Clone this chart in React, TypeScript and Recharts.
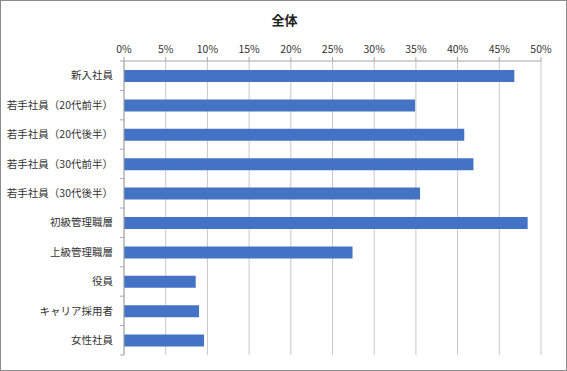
import React from 'react';
import { BarChart, Bar, XAxis, YAxis, CartesianGrid } from 'recharts';

const categories = [
  '新入社員',
  '若手社員（20代前半）',
  '若手社員（20代後半）',
  '若手社員（30代前半）',
  '若手社員（30代後半）',
  '初級管理職層',
  '上級管理職層',
  '役員',
  'キャリア採用者',
  '女性社員',
];
const values = [46.8, 34.9, 40.8, 41.9, 35.5, 48.4, 27.4, 8.6, 9.0, 9.6];
const xTicks = [0, 5, 10, 15, 20, 25, 30, 35, 40, 45, 50];

const data = categories.map((name, i) => ({ name, value: values[i] }));

const W = 567;
const H = 371;
const TOP = 61;
const BOTTOM = 16;
const band = (H - TOP - BOTTOM) / categories.length;
const FONT = '"Noto Sans CJK JP", "Noto Sans", sans-serif';

const CategoryTick = (props: any) => {
  const { x, y, payload, index } = props;
  const axisX = x + 11;
  return (
    <g>
      <text x={x} y={y} dy="0.35em" textAnchor="end" fontSize={10.5} fill="#333" fontFamily={FONT}>
        {payload.value}
      </text>
      {index === 0 && <line x1={axisX - 4} x2={axisX} y1={y - band / 2} y2={y - band / 2} stroke="#a6a6a6" />}
      <line x1={axisX - 4} x2={axisX} y1={y + band / 2} y2={y + band / 2} stroke="#a6a6a6" />
    </g>
  );
};

export default function App() {
  return (
    <div
      style={{
        position: 'fixed',
        left: 0,
        top: 0,
        width: W,
        height: H,
        background: '#fff',
        border: '1px solid #8c8c8c',
        boxSizing: 'border-box',
        fontFamily: FONT,
      }}
    >
      <div
        style={{
          position: 'absolute',
          left: 0,
          width: W,
          top: 9,
          textAlign: 'center',
          fontSize: 13,
          fontWeight: 'bold',
          color: '#222',
        }}
      >
        全体
      </div>
      <div style={{ position: 'absolute', left: -1, top: -1 }}>
        <BarChart
          width={W}
          height={H}
          data={data}
          layout="vertical"
          margin={{ top: TOP - 30, right: 26, bottom: BOTTOM, left: 0 }}
          barSize={12}
        >
          <CartesianGrid horizontal={false} stroke="#c8c8c8" />
          <XAxis
            type="number"
            orientation="top"
            domain={[0, 50]}
            ticks={xTicks}
            height={30}
            tickFormatter={(v: number) => `${v}%`}
            tick={{ fontSize: 10.5, fill: '#333', fontFamily: FONT }}
            tickSize={4}
            tickMargin={4}
            stroke="#a6a6a6"
          />
          <YAxis
            type="category"
            dataKey="name"
            width={124}
            tickSize={4}
            tickMargin={7}
            tickLine={false}
            interval={0}
            tick={<CategoryTick />}
            stroke="#a6a6a6"
          />
          <Bar dataKey="value" fill="#4472c4" isAnimationActive={false} />
        </BarChart>
      </div>
    </div>
  );
}
